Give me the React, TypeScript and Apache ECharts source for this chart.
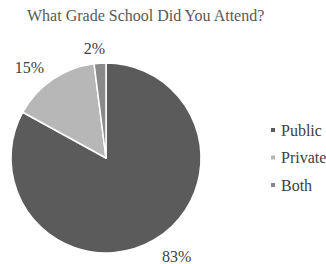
import React, { useEffect, useRef } from "react";
import * as echarts from "echarts";

const categories = ["Public", "Private", "Both"];
const values = [83, 15, 2];
const colors = ["#5b5b5b", "#b7b7b7", "#898989"];
const title = "What Grade School Did You Attend?";
const FONT = "Liberation Serif";
// label offsets (style only): radial length, horizontal length
const labelLen = [19, 15, 15];
const labelLen2 = [-2, 0, -6];

export default function App() {
  const ref = useRef<HTMLDivElement>(null);
  useEffect(() => {
    const chart = echarts.init(ref.current!, null, { renderer: "svg" });
    chart.setOption({
      animation: false,
      backgroundColor: "#ffffff",
      textStyle: { fontFamily: FONT },
      title: {
        text: title,
        left: 22,
        top: 2,
        textStyle: { fontFamily: FONT, fontSize: 16, fontWeight: "normal", color: "#595959" },
      },
      legend: {
        orient: "vertical",
        left: 264,
        top: 117,
        icon: "rect",
        itemWidth: 6,
        itemHeight: 6,
        itemGap: 11.5,
        data: categories,
        textStyle: { fontFamily: FONT, fontSize: 16, color: "#404040" },
      },
      series: [
        {
          type: "pie",
          center: [106, 158],
          radius: 95,
          startAngle: 90,
          clockwise: true,
          avoidLabelOverlap: false,
          itemStyle: { borderColor: "#ffffff", borderWidth: 1.5 },
          label: {
            show: true,
            position: "outside",
            formatter: "{d}%",
            fontFamily: FONT,
            fontSize: 16,
            lineHeight: 14,
            color: "#404040",
            distanceToLabelLine: 0,
          },
          labelLine: { show: false },
          data: categories.map((c, i) => ({
            name: c,
            value: values[i],
            itemStyle: { color: colors[i] },
            labelLine: { show: false, length: labelLen[i], length2: labelLen2[i] },
          })),
        },
      ],
    });
    return () => chart.dispose();
  }, []);
  return <div ref={ref} style={{ position: "fixed", left: 0, top: 0, width: 326, height: 264 }} />;
}
